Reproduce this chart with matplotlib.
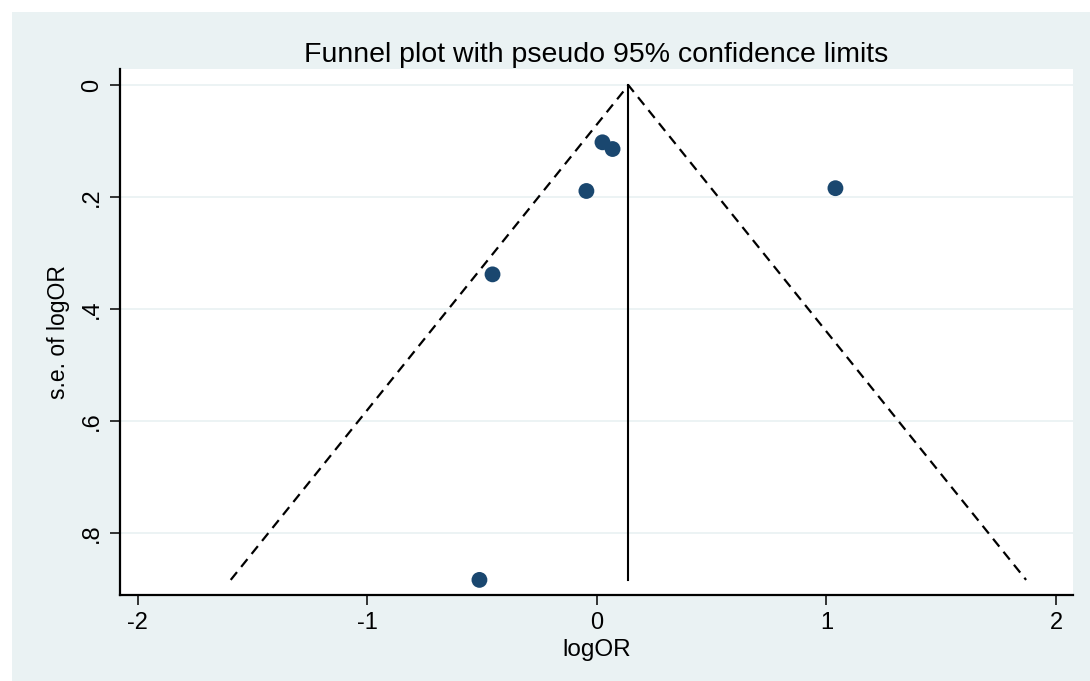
"""Funnel plot with pseudo 95% confidence limits (Stata s2color look)."""

import matplotlib

matplotlib.use("Agg")
import matplotlib.pyplot as plt
from matplotlib.patches import Rectangle

plt.rcParams["font.family"] = ["Liberation Sans", "DejaVu Sans"]

# study estimates
log_or = [0.024, 0.068, -0.046, 1.039, -0.455, -0.512]
se_log_or = [0.102, 0.114, 0.189, 0.184, 0.338, 0.884]

pooled = 0.137
z95 = 1.96
se_max = max(se_log_or)

x_ticks = [-2, -1, 0, 1, 2]
y_ticks = [0, 0.2, 0.4, 0.6, 0.8]
y_tick_labels = ["0", ".2", ".4", ".6", ".8"]

bg = "#EAF2F3"
navy = "#1A476F"

fig = plt.figure(figsize=(10.9, 6.81), dpi=100, facecolor="white")
fig.patches.append(
    Rectangle((12 / 1090, 0), 1, 1 - 12 / 681, transform=fig.transFigure,
              facecolor=bg, edgecolor="none", zorder=-10)
)

W, H = 1090, 681
left, right, top, bottom = 120, 1073, 69, 595
ax = fig.add_axes([left / W, 1 - bottom / H, (right - left) / W, (bottom - top) / H])
ax.set_facecolor("white")

# pseudo confidence limits and pooled estimate
ax.plot([pooled - z95 * se_max, pooled, pooled + z95 * se_max], [se_max, 0, se_max],
        color="black", linestyle=(0, (4.5, 3)), linewidth=1.6, zorder=2)
ax.plot([pooled, pooled], [0, se_max], color="black", linewidth=1.5, zorder=2)

ax.scatter(log_or, se_log_or, s=130, color=navy, edgecolors="none", zorder=3)

ax.set_xlim(-2.078, 2.074)
ax.set_ylim(0.911, -0.029)
ax.set_xticks(x_ticks)
ax.set_xticklabels([str(v) for v in x_ticks])
ax.set_yticks(y_ticks)
ax.set_yticklabels(y_tick_labels, rotation=90, va="center")

ax.grid(axis="y", color=bg, linewidth=1.3, zorder=0)
ax.set_axisbelow(True)
for side in ("top", "right"):
    ax.spines[side].set_visible(False)
for side in ("left", "bottom"):
    ax.spines[side].set_linewidth(1.6)
ax.tick_params(direction="out", length=7, width=1.1, labelsize=17, pad=5)

ax.set_xlabel("logOR", fontsize=17.5, labelpad=4)
ax.set_ylabel("s.e. of logOR", fontsize=16.5, labelpad=8)
ax.set_title("Funnel plot with pseudo 95% confidence limits", fontsize=20.5, pad=5)

fig.savefig("out.png", dpi=100, facecolor=fig.get_facecolor())
